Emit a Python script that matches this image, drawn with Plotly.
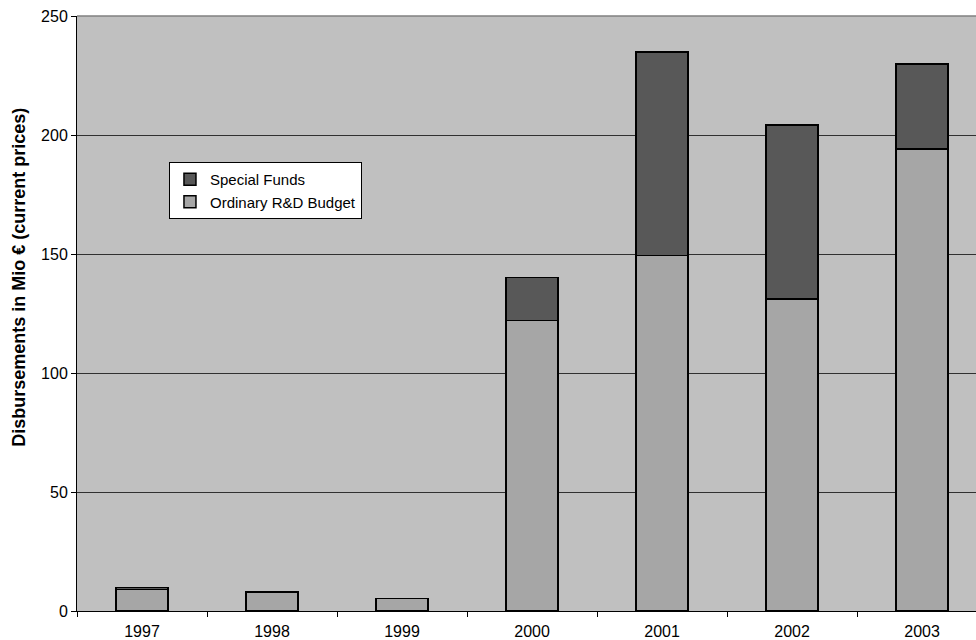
import plotly.graph_objects as go

years = ["1997", "1998", "1999", "2000", "2001", "2002", "2003"]
ordinary = [9.1, 8.0, 5.2, 122.0, 149.3, 131.0, 194.2]
special = [0.7, 0.0, 0.0, 18.2, 85.5, 73.2, 35.6]

fig = go.Figure()
fig.add_trace(go.Bar(x=years, y=ordinary, name="Ordinary R&D Budget",
                     marker=dict(color="#a6a6a6", line=dict(color="#000000", width=1.5)),
                     width=0.4))
fig.add_trace(go.Bar(x=years, y=special, name="Special Funds",
                     marker=dict(color="#585858", line=dict(color="#000000", width=1.5)),
                     width=0.4))

fig.add_annotation(text="<b>Disbursements in Mio € (current prices)</b>",
                   xref="paper", yref="paper", x=-0.0645, y=0.56,
                   xanchor="center", yanchor="middle", textangle=-90,
                   showarrow=False, font=dict(size=18))

# plot-area top border
fig.add_shape(type="line", xref="paper", yref="paper", x0=0, x1=1, y0=1, y1=1,
              line=dict(color="#808080", width=1.5), layer="above")

fig.update_layout(
    width=976, height=640,
    barmode="stack",
    paper_bgcolor="white",
    plot_bgcolor="#c0c0c0",
    margin=dict(l=77, r=0, t=16, b=29),
    font=dict(family="Liberation Sans, Arial, sans-serif", size=16, color="#000000"),
    showlegend=True,
    legend=dict(x=0.1023, y=0.7546, xanchor="left", yanchor="top",
                bgcolor="white", bordercolor="#000000", borderwidth=1,
                traceorder="reversed", font=dict(size=15),
                tracegroupgap=0, itemwidth=30),
    xaxis=dict(type="category", range=[-0.5, 6.415], tickson="boundaries",
               ticks="outside", ticklen=5, tickcolor="#000000",
               showline=True, linecolor="#000000", linewidth=1,
               showgrid=False, tickfont=dict(size=16), ticklabelstandoff=6),
    yaxis=dict(range=[0, 250], tickvals=[0, 50, 100, 150, 200, 250],
               ticks="outside", ticklen=5, tickcolor="#000000",
               showline=True, linecolor="#000000", linewidth=1,
               showgrid=True, gridcolor="#303030", gridwidth=1,
               zeroline=False, tickfont=dict(size=16)),
)

fig.write_html("out.html", config={"displayModeBar": False},
               post_script="document.body.style.margin='0';document.body.style.overflow='hidden';")
